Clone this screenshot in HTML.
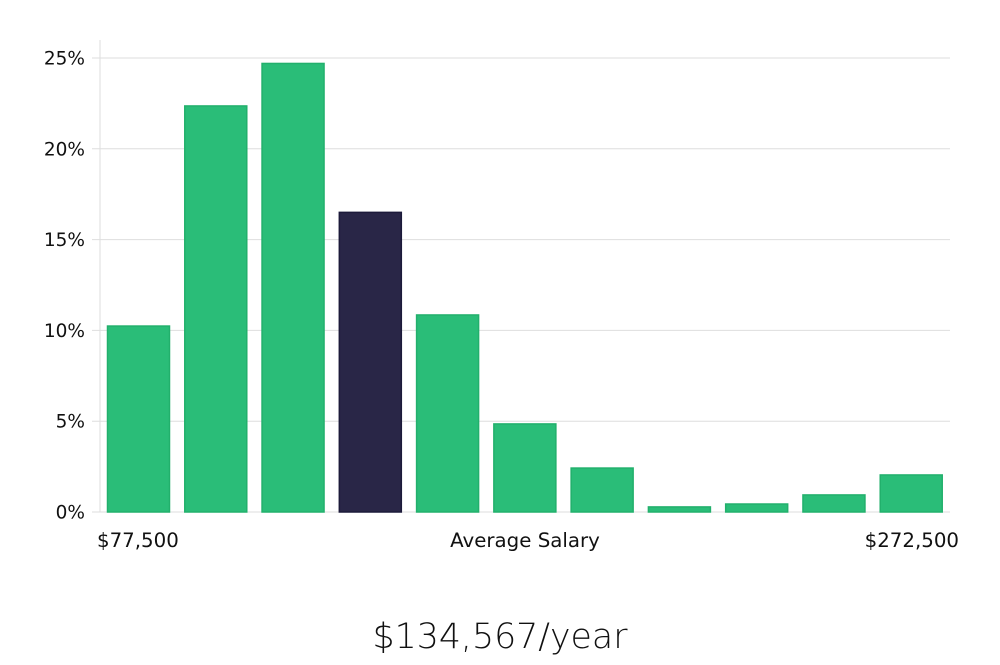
<!DOCTYPE html>
<html><head><meta charset="utf-8"><style>
body{margin:0;background:#fff;width:1000px;height:660px;overflow:hidden}
svg text{font-family:"DejaVu Sans","Liberation Sans",sans-serif;fill:#111}
</style></head><body>
<svg id="chart" width="1000" height="660"></svg>
<script>
const categories=["b1","b2","b3","b4","b5","b6","b7","b8","b9","b10","b11"];
const values=[10.24,22.36,24.7,16.5,10.85,4.85,2.42,0.28,0.44,0.94,2.04];
const highlightIndex=3;
const yTicks=[0,5,10,15,20,25];
const yTickLabels=["0%","5%","10%","15%","20%","25%"];
const xLabels=["$77,500","Average Salary","$272,500"];
const NS="http://www.w3.org/2000/svg";
const svg=document.getElementById('chart');
const x0=100,x1=950,yBase=512,yTop=58;
const y=v=>yBase-(v/25)*(yBase-yTop);
const step=(x1-x0)/categories.length;
const xb=i=>x0+i*step;
function mk(t,a){const e=document.createElementNS(NS,t);for(const k in a)e.setAttribute(k,a[k]);svg.appendChild(e);return e;}
yTicks.forEach((t,i)=>{
 const g=mk('line',{x1:x0-8,x2:x1,y1:y(t),y2:y(t),stroke:'#dedede','stroke-width':1});
 
 
 const l=mk('text',{x:85,y:y(t)+6.5,'text-anchor':'end','font-size':18.5});
 l.textContent=yTickLabels[i];
 
 
});
const ax=mk('line',{x1:x0,x2:x0,y1:40,y2:yBase,stroke:'#dedede','stroke-width':1});


values.forEach((v,i)=>{
 const hi=i===highlightIndex;
 const r=mk('rect',{x:xb(i)+7.5,y:y(v),width:62,height:yBase-y(v),fill:hi?'#292647':'#2abd78',stroke:hi?'#1c1a3a':'#22b06c','stroke-width':1.5});
 
 
});
[[97,'start'],[525,'middle'],[959,'end']].forEach((p,i)=>{
 const t=mk('text',{x:p[0],y:547,'text-anchor':p[1],'font-size':19.8});
 t.textContent=xLabels[i];
 
 
});
const s=mk('text',{x:500,y:648,'text-anchor':'middle','font-size':35,'font-weight':300,'textLength':255,'lengthAdjust':'spacingAndGlyphs'});
s.textContent="$134,567/year";


</script>
</body></html>
